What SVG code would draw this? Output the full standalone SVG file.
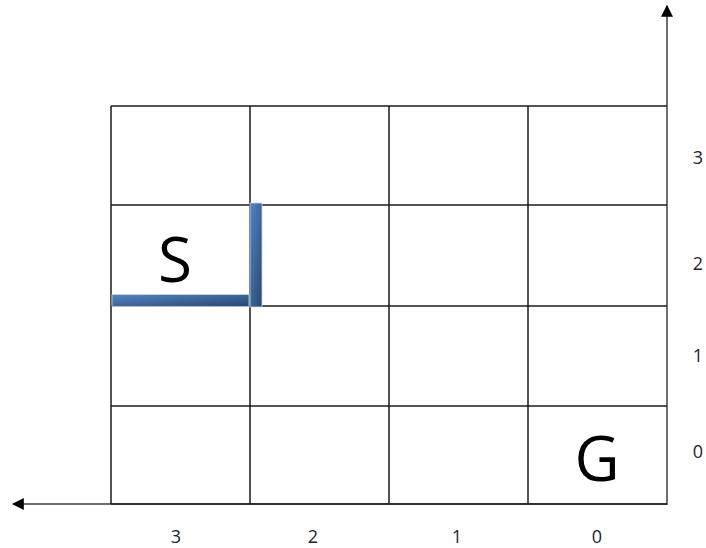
<svg xmlns="http://www.w3.org/2000/svg" width="706" height="548" viewBox="0 0 706 548">
<style>
.grid line{stroke:#1a1a1a;stroke-width:1.5}
.axis{stroke:#6e6e6e;stroke-width:2;fill:none}
.big{font-family:"Open Sans","Liberation Sans",sans-serif;font-size:62px;fill:#000;text-anchor:middle}
.lab{font-family:"Open Sans","Liberation Sans",sans-serif;font-size:18px;fill:#1c2530;text-anchor:middle}
</style>
<defs>
<marker id="ah" viewBox="0 0 10 10" refX="9" refY="5" markerWidth="6" markerHeight="6" orient="auto" markerUnits="strokeWidth">
<path d="M0,0 L10,5 L0,10 z" fill="#000"/>
</marker>
<linearGradient id="wall" x1="0" y1="0" x2="1" y2="1">
<stop offset="0" stop-color="#5585c2"/>
<stop offset="1" stop-color="#284770"/>
</linearGradient>
</defs>
<g id="connectors">
<line class="axis" x1="667" y1="505" x2="667" y2="6" marker-end="url(#ah)"/>
<line class="axis" x1="667" y1="504" x2="13" y2="504" marker-end="url(#ah)"/>
</g>
<g id="grid" class="grid">
<line x1="111" y1="106" x2="667" y2="106"/>
<line x1="111" y1="205" x2="667" y2="205"/>
<line x1="111" y1="306" x2="667" y2="306"/>
<line x1="111" y1="406" x2="667" y2="406"/>
<line x1="111" y1="504" x2="667" y2="504"/>
<line x1="111" y1="106" x2="111" y2="504"/>
<line x1="250" y1="106" x2="250" y2="504"/>
<line x1="389" y1="106" x2="389" y2="504"/>
<line x1="528" y1="106" x2="528" y2="504"/>
</g>
<g id="walls">
<rect x="112" y="294.5" width="137" height="12" fill="url(#wall)" stroke="#c9d6e8" stroke-width="0.8"/>
<rect x="250" y="203" width="12" height="104" fill="url(#wall)" stroke="#c9d6e8" stroke-width="0.8"/>
</g>
<g id="node-S"><text class="big" x="175" y="282">S</text></g>
<g id="node-G"><text class="big" x="597" y="481">G</text></g>
<g id="labels">
<text class="lab" x="698" y="164">3</text>
<text class="lab" x="698" y="270">2</text>
<text class="lab" x="698" y="362">1</text>
<text class="lab" x="698" y="458">0</text>
<text class="lab" x="176" y="543">3</text>
<text class="lab" x="313" y="543">2</text>
<text class="lab" x="457" y="543">1</text>
<text class="lab" x="597" y="543">0</text>
</g>
</svg>
